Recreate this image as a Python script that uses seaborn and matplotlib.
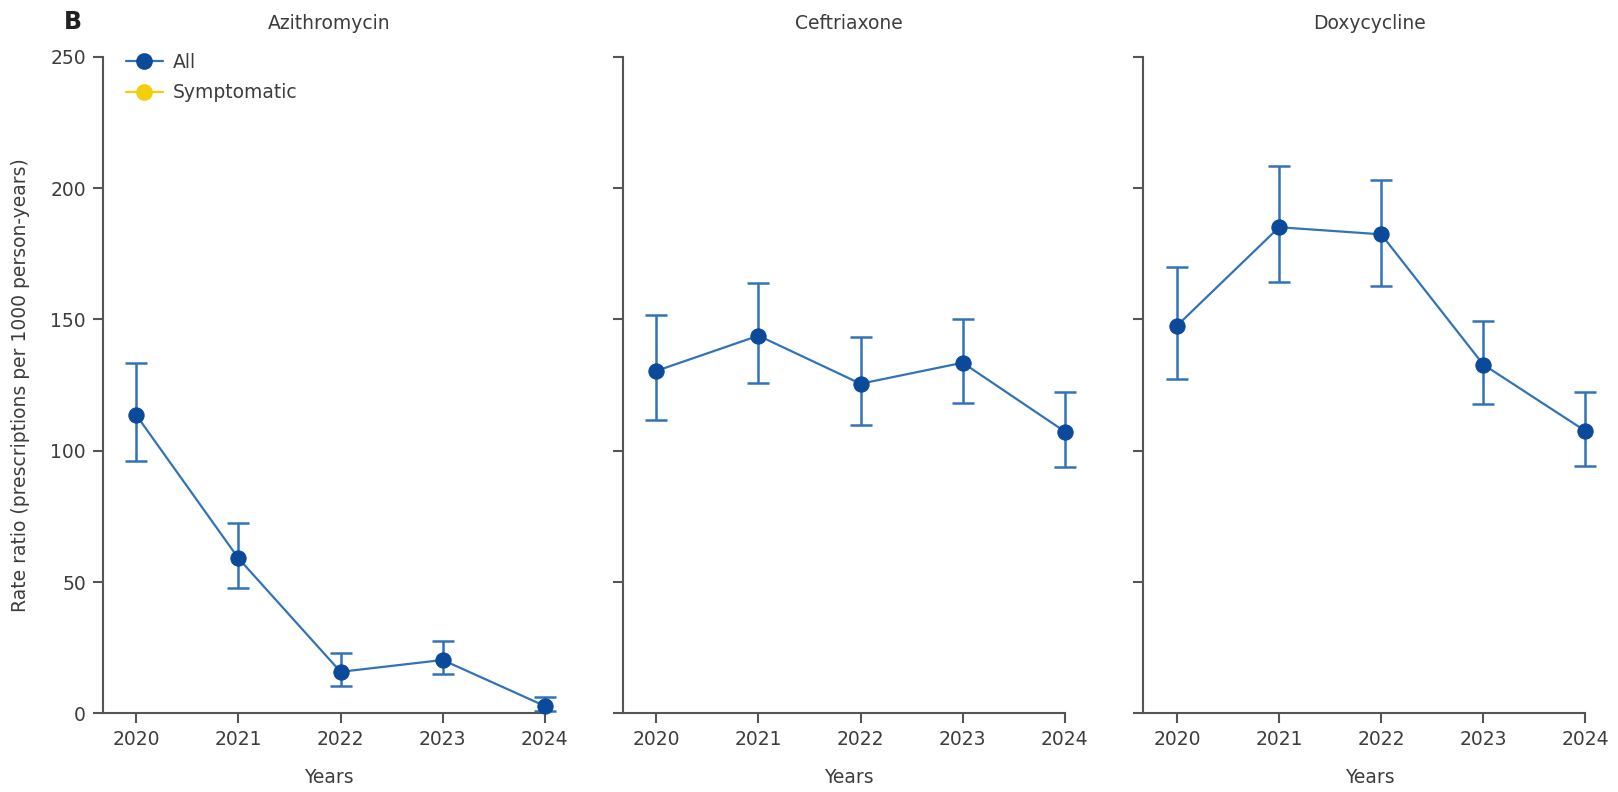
import matplotlib
matplotlib.use("Agg")
import matplotlib.pyplot as plt
from matplotlib.lines import Line2D
import seaborn as sns
import pandas as pd

# Prescription rates per 1000 person-years, with 95% CI bounds
years = [2020, 2021, 2022, 2023, 2024]
drugs = ["Azithromycin", "Ceftriaxone", "Doxycycline"]

azithromycin_rate = [113.5, 59.0, 15.8, 20.3, 2.8]
azithromycin_low = [96.1, 47.8, 10.5, 14.8, 0.8]
azithromycin_high = [133.5, 72.6, 23.1, 27.7, 6.3]

ceftriaxone_rate = [130.4, 143.8, 125.5, 133.5, 107.3]
ceftriaxone_low = [111.6, 125.6, 109.7, 118.3, 93.8]
ceftriaxone_high = [151.6, 164.0, 143.4, 150.3, 122.3]

doxycycline_rate = [147.6, 185.1, 182.4, 132.8, 107.5]
doxycycline_low = [127.4, 164.2, 162.9, 117.8, 94.2]
doxycycline_high = [170.1, 208.3, 203.1, 149.5, 122.4]

series_labels = ["All", "Symptomatic"]
y_ticks = [0, 50, 100, 150, 200, 250]

rows = []
for drug, rate, lo, hi in [
    ("Azithromycin", azithromycin_rate, azithromycin_low, azithromycin_high),
    ("Ceftriaxone", ceftriaxone_rate, ceftriaxone_low, ceftriaxone_high),
    ("Doxycycline", doxycycline_rate, doxycycline_low, doxycycline_high),
]:
    for y, r, l, h in zip(years, rate, lo, hi):
        rows.append({"drug": drug, "year": y, "rate": r, "low": l, "high": h})
df = pd.DataFrame(rows)

sns.set_theme(style="white")
plt.rcParams["font.family"] = ["DejaVu Sans"]

TEXT = "#3d3d3d"
SPINE = "#555555"
LINE_BLUE = "#3273b8"
MARK_BLUE = "#0b4a9a"
YELLOW = "#f2cf0a"
FS = 13.5

W, H = 1618, 792
fig = plt.figure(figsize=(W / 100, H / 100), dpi=100)

x_left, x_right = 2019.67, 2024.1
px_per_year = 102.1
ax_w = (x_right - x_left) * px_per_year / W
ax_bottom = (H - 713.3) / H
ax_h = (713.3 - 56.8) / H
lefts_px = [102.7, 622.7, 1143.3]

axes = []
for i, drug in enumerate(drugs):
    ax = fig.add_axes([lefts_px[i] / W, ax_bottom, ax_w, ax_h])
    axes.append(ax)
    sub = df[df["drug"] == drug]

    ax.errorbar(sub["year"], sub["rate"],
                yerr=[sub["rate"] - sub["low"], sub["high"] - sub["rate"]],
                fmt="none", ecolor=LINE_BLUE, elinewidth=1.8, capsize=8,
                capthick=1.8, clip_on=False, zorder=2)
    sns.lineplot(data=sub, x="year", y="rate", ax=ax, color=LINE_BLUE,
                 linewidth=1.6, marker="o", markersize=11,
                 markerfacecolor=MARK_BLUE, markeredgecolor=MARK_BLUE,
                 clip_on=False, zorder=3, legend=False)

    ax.set_xlim(x_left, x_right)
    ax.set_ylim(0, 250)
    ax.set_xticks(years)
    ax.set_xticklabels([str(y) for y in years])
    ax.set_yticks(y_ticks)
    if i == 0:
        ax.set_yticklabels([str(t) for t in y_ticks])
        ax.set_ylabel("Rate ratio (prescriptions per 1000 person-years)",
                      fontsize=FS, color=TEXT, labelpad=15)
    else:
        ax.set_yticklabels([])
        ax.set_ylabel("")
    ax.set_xlabel("Years", fontsize=FS, color=TEXT, labelpad=14)
    ax.set_title(drug, fontsize=FS, color=TEXT, pad=20)

    for side in ["top", "right"]:
        ax.spines[side].set_visible(False)
    for side in ["left", "bottom"]:
        ax.spines[side].set_color(SPINE)
        ax.spines[side].set_linewidth(1.5)
    ax.spines["bottom"].set_bounds(x_left, 2024)
    ax.spines["left"].set_bounds(0, 250)
    ax.tick_params(axis="both", which="major", length=7, width=1.5,
                   color=SPINE, labelcolor=TEXT, labelsize=FS, pad=5,
                   left=True, bottom=True)

handles = [
    Line2D([], [], color=LINE_BLUE, linewidth=1.6, marker="o", markersize=11,
           markerfacecolor=MARK_BLUE, markeredgecolor=MARK_BLUE),
    Line2D([], [], color=YELLOW, linewidth=1.6, marker="o", markersize=11,
           markerfacecolor=YELLOW, markeredgecolor=YELLOW),
]
axes[0].legend(handles, series_labels, loc="upper left",
               bbox_to_anchor=(0.03, 1.02), frameon=False, fontsize=FS,
               handlelength=2.0, handletextpad=0.5, labelspacing=0.6,
               borderpad=0, labelcolor=TEXT)

fig.text(73 / W, 1 - 22 / H, "B", fontsize=17, fontweight="bold",
         color="#222222", ha="center", va="center")

fig.savefig("out.png", dpi=100, facecolor="white")
